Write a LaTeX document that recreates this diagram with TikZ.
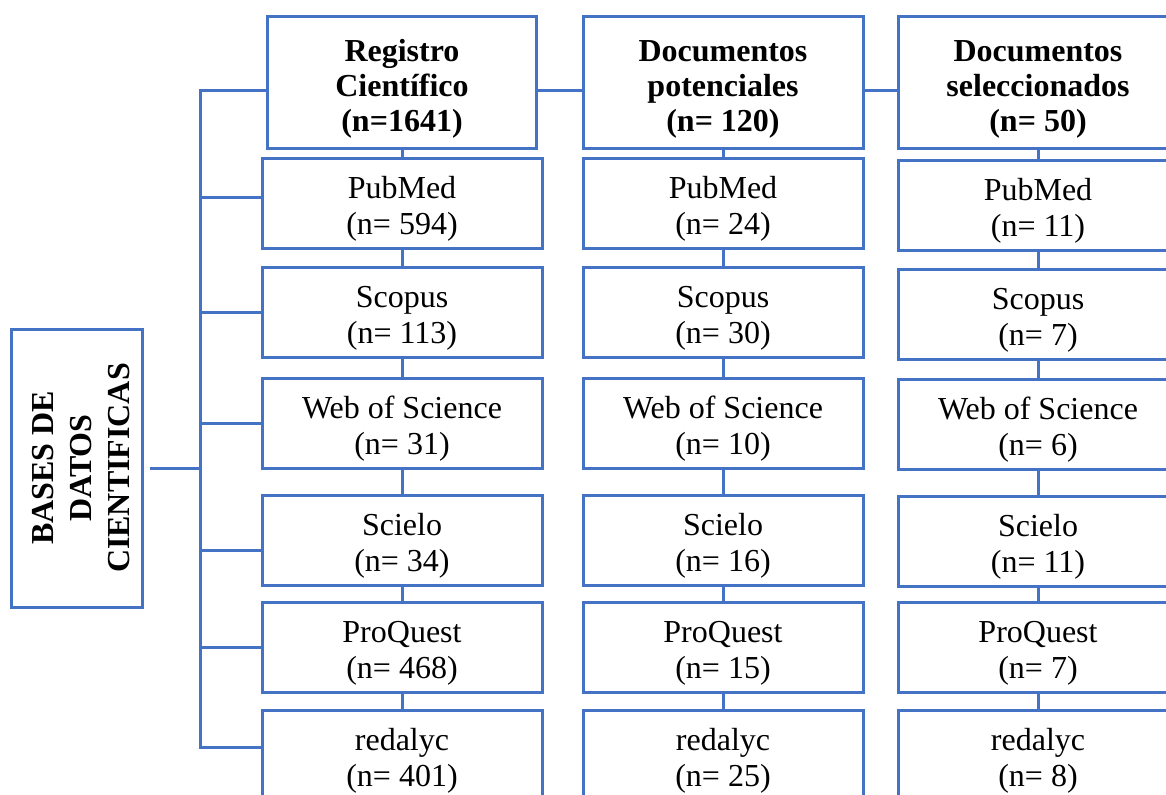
\documentclass[tikz,border=0pt]{standalone}
\usepackage{fontspec}
\setmainfont{Liberation Serif}
\usepackage{tikz}
\usetikzlibrary{positioning}
\definecolor{wordblue}{HTML}{4472C4}

\begin{document}
\begin{tikzpicture}[x=0.5pt, y=-0.5pt, line width=1.5pt]
\useasboundingbox (0,0) rectangle (1166,794);
\clip (0,0) rectangle (1166,794);
\tikzstyle{every node} = [draw=wordblue, rectangle, align=center, inner sep=0pt, font=\fontsize{16pt}{18pt}\selectfont]
\tikzstyle{head} = [minimum width=140pt, minimum height=66pt, font=\fontsize{16pt}{17.5pt}\selectfont\bfseries, execute at begin node=\rule{0pt}{53pt}]
\tikzstyle{db} = [minimum width=140pt, minimum height=45pt, execute at begin node=\rule{0pt}{35pt}]
\node[rotate=90, minimum width=139pt, minimum height=65.5pt, font=\fontsize{16pt}{19pt}\selectfont\bfseries, execute at begin node=\rule{0pt}{53.5pt}] (bases) at (76.5,468) {BASES DE\\DATOS\\CIENTIFICAS};
\node[head, minimum width=134.5pt] (h1) at (402,82) {Registro\\Científico\\(n=1641)};
\node[head] (h2) at (723,82) {Documentos\\potenciales\\(n= 120)};
\node[head] (h3) at (1038,82) {Documentos\\seleccionados\\(n= 50)};
\node[db] (p1) at (402,203) {PubMed\\(n= 594)};
\node[db] (s1) at (402,312) {Scopus\\(n= 113)};
\node[db] (w1) at (402,423) {Web of Science\\(n= 31)};
\node[db] (e1) at (402,540) {Scielo\\(n= 34)};
\node[db] (q1) at (402,647) {ProQuest\\(n= 468)};
\node[db] (r1) at (402,755) {redalyc\\(n= 401)};
\node[db] (p2) at (723,203) {PubMed\\(n= 24)};
\node[db] (s2) at (723,312) {Scopus\\(n= 30)};
\node[db] (w2) at (723,423) {Web of Science\\(n= 10)};
\node[db] (e2) at (723,540) {Scielo\\(n= 16)};
\node[db] (q2) at (723,647) {ProQuest\\(n= 15)};
\node[db] (r2) at (723,755) {redalyc\\(n= 25)};
\node[db] (p3) at (1038,205) {PubMed\\(n= 11)};
\node[db] (s3) at (1038,314) {Scopus\\(n= 7)};
\node[db] (w3) at (1038,424) {Web of Science\\(n= 6)};
\node[db] (e3) at (1038,541) {Scielo\\(n= 11)};
\node[db] (q3) at (1038,647) {ProQuest\\(n= 7)};
\node[db] (r3) at (1038,755) {redalyc\\(n= 8)};
\coordinate (bus) at (200,0);
\draw[wordblue] ([yshift=-4pt]h1.east) -- ([yshift=-4pt]h2.west);
\draw[wordblue] ([yshift=-4pt]h2.east) -- ([yshift=-4pt]h3.west);
\draw[wordblue] (h1) -- (p1) -- (s1) -- (w1) -- (e1) -- (q1) -- (r1);
\draw[wordblue] (h2) -- (p2) -- (s2) -- (w2) -- (e2) -- (q2) -- (r2);
\draw[wordblue] (h3) -- (p3) -- (s3) -- (w3) -- (e3) -- (q3) -- (r3);
\draw[wordblue] ([yshift=-4pt]h1.west) -- ([yshift=-4pt]h1.west -| bus) -- ([yshift=4pt]r1.west -| bus) -- ([yshift=4pt]r1.west);
\draw[wordblue] ([yshift=3pt]p1.west) -- ([yshift=3pt]p1.west -| bus);
\draw[wordblue] (s1.west) -- (s1.west -| bus);
\draw[wordblue] (w1.west) -- (w1.west -| bus);
\draw[wordblue] ([yshift=-5pt]e1.west) -- ([yshift=-5pt]e1.west -| bus);
\draw[wordblue] (q1.west) -- (q1.west -| bus);
\draw[wordblue, shorten <=3pt] (bases) -- (bases -| bus);
\end{tikzpicture}
\end{document}
